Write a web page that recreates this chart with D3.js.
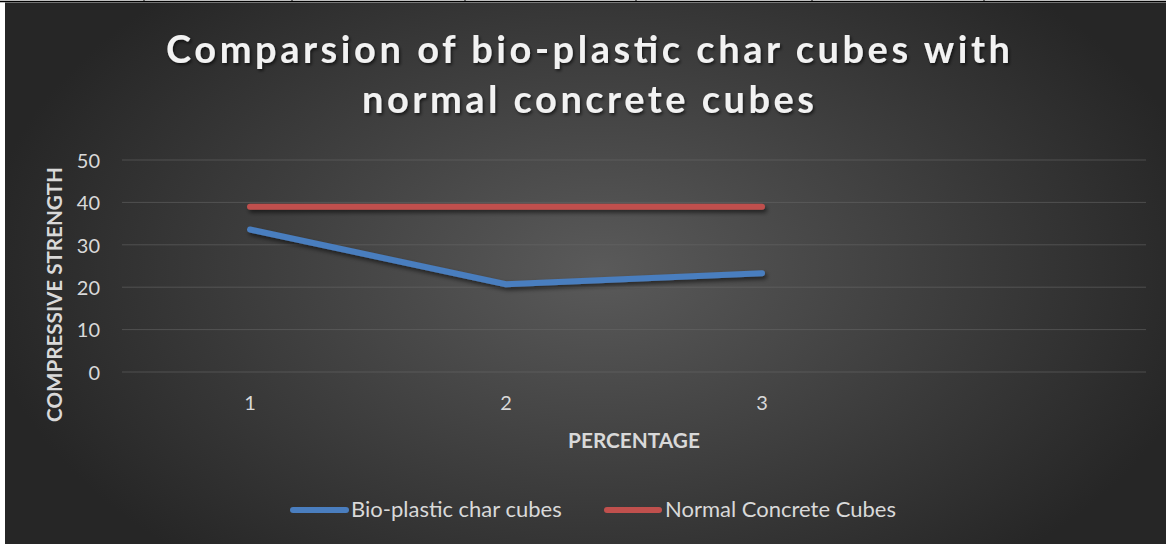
<!DOCTYPE html>
<html>
<head>
<meta charset="utf-8">
<script src="https://cdn.jsdelivr.net/npm/d3@7"></script>
<style>
  html, body { margin: 0; padding: 0; background: #ffffff; }
  svg { display: block; }
  text { font-family: Lato, "Open Sans", "DejaVu Sans", sans-serif; }
</style>
</head>
<body>
<svg id="chart" width="1166" height="544"></svg>
<script>
// Percentage categories (a fourth, unlabeled slot keeps the axis width)
const categories = ["1", "2", "3", ""];
const bioPlastic = [33.6, 20.7, 23.3];
const normalConcrete = [39, 39, 39];
const yTicks = [0, 10, 20, 30, 40, 50];
const seriesNames = ["Bio-plastic char cubes", "Normal Concrete Cubes"];
const titleLines = ["Comparsion of bio-plastic char cubes with", "normal concrete cubes"];
const xTitle = "PERCENTAGE";
const yTitle = "COMPRESSIVE STRENGTH";

const W = 1166, H = 544;
const svg = d3.select("#chart");
const defs = svg.append("defs");

// Dark radial background
const rg = defs.append("radialGradient").attr("id", "bg")
  .attr("gradientUnits", "userSpaceOnUse")
  .attr("cx", 600).attr("cy", 270).attr("r", 620)
  .attr("gradientTransform", "translate(600,270) scale(1,0.62) translate(-600,-270)");
rg.append("stop").attr("offset", "0%").attr("stop-color", "#5a5a5a");
rg.append("stop").attr("offset", "100%").attr("stop-color", "#262626");

const shadow = defs.append("filter").attr("id", "shadow")
  .attr("x", "-20%").attr("y", "-20%").attr("width", "140%").attr("height", "160%");
shadow.append("feDropShadow").attr("dx", 2).attr("dy", 3).attr("stdDeviation", 2.2)
  .attr("flood-color", "#000").attr("flood-opacity", 0.55);

const tshadow = defs.append("filter").attr("id", "tshadow")
  .attr("x", "-10%").attr("y", "-30%").attr("width", "120%").attr("height", "160%");
tshadow.append("feDropShadow").attr("dx", 1.5).attr("dy", 2).attr("stdDeviation", 1.6)
  .attr("flood-color", "#000").attr("flood-opacity", 0.6);

// Table border fragment along the top edge
svg.append("line").attr("x1", 0).attr("x2", W).attr("y1", 1.5).attr("y2", 1.5)
  .attr("stroke", "#000").attr("stroke-width", 1.5);
[144, 292, 465, 636, 812, 984].forEach(x => {
  svg.append("line").attr("x1", x).attr("x2", x).attr("y1", 0).attr("y2", 2)
    .attr("stroke", "#000").attr("stroke-width", 1);
});

// Chart panel
svg.append("rect").attr("x", 5).attr("y", 2.5).attr("width", W - 5).attr("height", H - 2.5)
  .attr("fill", "url(#bg)");

const x = d3.scaleBand().domain(categories).range([122, 1146]);
const y = d3.scaleLinear().domain([0, 50]).range([372, 160]);
const px = c => x(c) + x.bandwidth() / 2;

// Gridlines
svg.append("g").selectAll("line").data(yTicks).join("line")
  .attr("x1", 122).attr("x2", 1146)
  .attr("y1", d => y(d)).attr("y2", d => y(d))
  .attr("stroke", "#6a6a6a").attr("stroke-opacity", 0.55).attr("stroke-width", 1);

// Y axis labels
const yAxis = svg.append("g").attr("transform", "translate(100,0)")
  .call(d3.axisLeft(y).tickValues(yTicks).tickSize(0).tickPadding(0));
yAxis.select(".domain").remove();
yAxis.selectAll("text").attr("fill", "#d9d9d9").attr("font-size", 20)
  .attr("font-family", "Lato, sans-serif").attr("x", 0).attr("dy", "0.36em");

// X axis labels
const xAxis = svg.append("g").attr("transform", "translate(0,410)")
  .call(d3.axisBottom(x).tickSize(0).tickPadding(0));
xAxis.select(".domain").remove();
xAxis.selectAll("text").attr("fill", "#d9d9d9").attr("font-size", 20)
  .attr("font-family", "Lato, sans-serif").attr("y", 0).attr("dy", 0);

// Axis titles
svg.append("text").attr("x", 634).attr("y", 448).attr("text-anchor", "middle")
  .attr("fill", "#d9d9d9").attr("font-size", 20.8).attr("font-weight", 700)
  .text(xTitle);
svg.append("text").attr("transform", "translate(62,294.5) rotate(-90)")
  .attr("text-anchor", "middle").attr("fill", "#d9d9d9")
  .attr("font-size", 20.6).attr("font-weight", 700).text(yTitle);

// Title
svg.append("g").attr("filter", "url(#tshadow)").selectAll("text")
  .data(titleLines).join("text")
  .attr("x", 588).attr("y", (d, i) => 63 + i * 50)
  .attr("text-anchor", "middle").attr("fill", "#f2f2f2")
  .attr("font-size", 38).attr("font-weight", 700)
  .attr("textLength", (d, i) => i === 0 ? 844 : 452).attr("lengthAdjust", "spacing")
  .text(d => d);

// Series lines
const series = [
  { name: seriesNames[0], values: bioPlastic, color: "#4a7ebf" },
  { name: seriesNames[1], values: normalConcrete, color: "#c0504d" }
];
const line = d3.line().x((d, i) => px(categories[i])).y(d => y(d));
svg.append("g").attr("filter", "url(#shadow)").selectAll("path").data(series).join("path")
  .attr("d", d => line(d.values))
  .attr("fill", "none").attr("stroke", d => d.color).attr("stroke-width", 6)
  .attr("stroke-linecap", "round").attr("stroke-linejoin", "round");

// Legend
const legendPos = [{ x1: 293, x2: 346, tx: 351 }, { x1: 607, x2: 659, tx: 665 }];
const lg = svg.append("g");
series.forEach((s, i) => {
  const p = legendPos[i];
  lg.append("line").attr("x1", p.x1).attr("x2", p.x2).attr("y1", 510).attr("y2", 510)
    .attr("stroke", s.color).attr("stroke-width", 6).attr("stroke-linecap", "round");
  lg.append("text").attr("x", p.tx).attr("y", 517).attr("fill", "#d9d9d9")
    .attr("font-size", 22).text(s.name);
});
</script>
</body>
</html>
